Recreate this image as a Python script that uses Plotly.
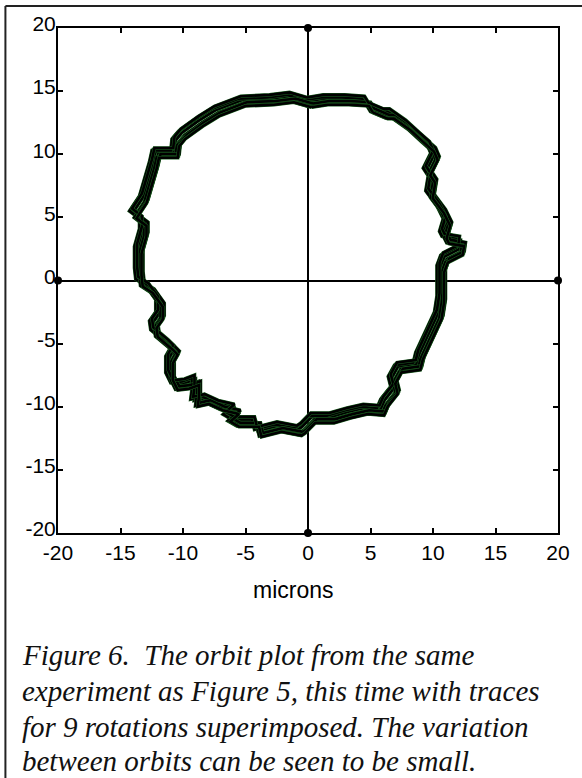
import plotly.graph_objects as go

# Base orbit path (microns), clockwise from top
orbit_x = [0.0, 1.3, 3.0, 4.6, 4.9, 6.1, 6.6, 7.9, 9.0, 9.8, 10.1, 9.5, 9.9, 9.7,
           10.6, 11.1, 10.8, 11.0, 12.2, 12.1, 10.9, 10.6, 10.6, 10.6, 10.4, 9.9,
           9.4, 8.9, 8.7, 7.2, 6.7, 6.9, 6.1, 5.8, 4.5, 3.2, 1.8, 0.3, -0.5, -0.8,
           -2.4, -4.0, -4.2, -5.8, -6.5, -5.8, -7.1, -8.2, -9.1, -9.0, -9.0, -9.8,
           -10.7, -11.1, -11.1, -10.7, -11.1, -12.3, -12.4, -11.9, -11.9, -12.7,
           -13.5, -13.6, -13.6, -13.2, -13.2, -14.0, -13.2, -12.8, -12.4, -12.2,
           -10.7, -10.6, -10.1, -8.7, -7.4, -5.3, -3.0, -1.4, 0.0]
orbit_y = [14.2, 14.4, 14.4, 14.3, 13.8, 13.3, 13.3, 12.4, 11.4, 10.7, 10.0, 8.8,
           8.2, 7.0, 5.8, 4.8, 3.8, 3.4, 3.2, 2.5, 1.9, 1.1, 0.0, -1.3, -2.6, -3.7,
           -4.8, -5.8, -6.6, -6.8, -7.7, -8.5, -9.5, -10.2, -10.1, -10.4, -10.8,
           -10.8, -11.6, -11.8, -11.5, -11.9, -11.1, -11.1, -10.7, -10.1, -9.8,
           -9.3, -9.5, -8.7, -7.8, -8.1, -8.2, -7.4, -6.1, -5.4, -5.0, -4.0, -3.3,
           -2.6, -1.6, -0.5, 0.0, 0.9, 2.6, 4.0, 4.8, 5.4, 6.6, 7.9, 9.3, 10.2,
           10.2, 11.1, 11.7, 12.7, 13.5, 14.3, 14.4, 14.6, 14.2]

# Per-rotation drift of each of the 9 superimposed traces (microns)
rotation_dx = [0.00, 0.22, -0.18, 0.34, -0.28, 0.10, 0.40, -0.08, 0.28]
rotation_dy = [0.00, -0.20, 0.18, -0.34, 0.10, -0.42, -0.18, 0.30, -0.48]

axis_ticks = [-20, -15, -10, -5, 0, 5, 10, 15, 20]
axis_ends_x = [0, 0, -20, 20]
axis_ends_y = [20, -20, 0, 0]

x_title = "microns"
caption_lines = ["Figure 6.&nbsp;&nbsp;The orbit plot from the same",
                 "experiment as Figure 5, this time with traces",
                 "for 9 rotations superimposed. The variation",
                 "between orbits can be seen to be small."]

W, H = 582, 778
L, R, T, B = 58, 20, 28, 245
pw, ph = W - L - R, H - T - B


def px2paper_x(px):
    return (px - L) / pw


def px2paper_y(py):
    return (H - B - py) / ph


fig = go.Figure()

for dx, dy in zip(rotation_dx, rotation_dy):
    xs = [v + dx for v in orbit_x]
    ys = [v + dy for v in orbit_y]
    fig.add_trace(go.Scatter(x=xs, y=ys, mode="lines",
                             line=dict(color="#1b5e20", width=3.6),
                             hoverinfo="skip", showlegend=False))
    fig.add_trace(go.Scatter(x=xs, y=ys, mode="lines",
                             line=dict(color="black", width=2.6),
                             hoverinfo="skip", showlegend=False))

fig.add_trace(go.Scatter(x=axis_ends_x, y=axis_ends_y, mode="markers",
                         marker=dict(color="black", size=8),
                         cliponaxis=False, hoverinfo="skip", showlegend=False))

sans = "Liberation Sans, Arial, sans-serif"
tickfont = dict(family=sans, size=21, color="black")
common = dict(range=[-20, 20], tickvals=axis_ticks, ticktext=[str(v) for v in axis_ticks],
              showgrid=False, zeroline=True, zerolinecolor="black", zerolinewidth=2,
              showline=True, linecolor="black", linewidth=2, mirror="ticks",
              ticks="inside", ticklen=5, tickwidth=1.5, tickcolor="black",
              tickfont=tickfont, fixedrange=True)

fig.update_xaxes(**common)
fig.update_yaxes(**common, ticklabelshift=-4, ticklabelstandoff=-4)

fig.add_annotation(text=x_title, xref="paper", yref="paper",
                   x=px2paper_x(295), y=px2paper_y(590),
                   xanchor="center", yanchor="middle", showarrow=False,
                   font=dict(family=sans, size=23, color="black"))

line_centers = [655, 691, 727, 761]
for txt, yc in zip(caption_lines, line_centers):
    fig.add_annotation(text="<i>" + txt + "</i>", xref="paper", yref="paper",
                       x=px2paper_x(20), y=px2paper_y(yc),
                       xanchor="left", yanchor="middle", align="left", showarrow=False,
                       font=dict(family="Liberation Serif, Times New Roman, serif",
                                 size=29, color="#111"))

# outer frame (left and top edges)
fig.add_shape(type="line", xref="paper", yref="paper",
              x0=px2paper_x(5), x1=px2paper_x(5), y0=px2paper_y(6), y1=px2paper_y(790),
              line=dict(color="#222", width=2))
fig.add_shape(type="line", xref="paper", yref="paper",
              x0=px2paper_x(5), x1=px2paper_x(600), y0=px2paper_y(6), y1=px2paper_y(6),
              line=dict(color="#222", width=2))

fig.update_layout(width=W, height=H, margin=dict(l=L, r=R, t=T, b=B, pad=0),
                  paper_bgcolor="white", plot_bgcolor="white",
                  showlegend=False)

fig.write_html("out.html")
